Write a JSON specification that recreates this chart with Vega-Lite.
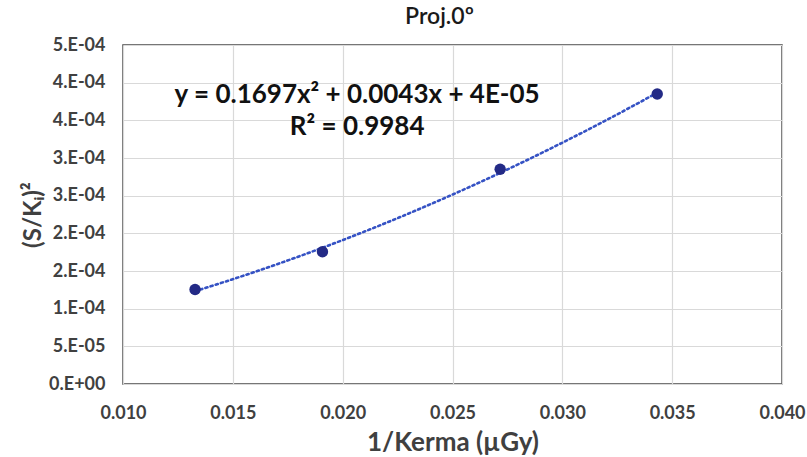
{
  "$schema": "https://vega.github.io/schema/vega-lite/v6.json",
  "autosize": "none",
  "width": 659,
  "height": 339,
  "padding": {"left": 123, "top": 45, "right": 25, "bottom": 73},
  "background": "white",
  "title": {"text": "Proj.0º", "font": "Lato", "fontSize": 23, "fontWeight": 600, "color": "#1a1a1a", "offset": 7, "dx": -13, "anchor": "middle"},
  "config": {
    "view": {"stroke": "#4a4a4a", "strokeWidth": 1.5},
    "axis": {"gridColor": "#d9d9d9", "gridWidth": 1.2, "domain": false, "ticks": false, "labelFont": "Lato", "labelFontWeight": "bold", "labelColor": "#404040", "labelFontSize": 18, "titleFont": "Lato", "titleFontWeight": "bold", "titleColor": "#404040", "labelOverlap": false}
  },
  "data": {"values": [
    {"x": 0.01328, "y": 0.0001255},
    {"x": 0.01908, "y": 0.0001755},
    {"x": 0.02717, "y": 0.000285},
    {"x": 0.03432, "y": 0.000385}
  ]},
  "encoding": {
    "x": {"field": "x", "type": "quantitative", "scale": {"domain": [0.01, 0.04], "nice": false},
      "axis": {"values": [0.01, 0.015, 0.02, 0.025, 0.03, 0.035, 0.04], "format": ".3f", "labelFlush": false, "labelPadding": 20, "title": "1/Kerma (µGy)", "titleFontSize": 26, "titleBaseline": "alphabetic", "titleY": 66}},
    "y": {"field": "y", "type": "quantitative", "scale": {"domain": [0, 0.00045], "nice": false},
      "axis": {"values": [0, 0.00005, 0.0001, 0.00015, 0.0002, 0.00025, 0.0003, 0.00035, 0.0004, 0.00045], "tickCount": 10,
        "labelExpr": "datum.value == 0 ? '0.E+00' : (datum.value < 0.00009 ? '5.E-05' : toString(round(datum.value * 10000 + 0.001)) + '.E-04')",
        "labelPadding": 18, "title": "(S/Kᵢ)²", "titleFontSize": 24, "titleX": -78}}
  },
  "layer": [
    {
      "transform": [{"regression": "y", "on": "x", "method": "poly", "order": 2}],
      "mark": {"type": "line", "color": "#3552c4", "strokeWidth": 2.6, "strokeDash": [2.2, 3.2], "strokeCap": "round"}
    },
    {
      "mark": {"type": "point", "filled": true, "size": 130, "color": "#232a86", "opacity": 1}
    },
    {
      "data": {"values": [
        {"x": 0.02066, "y": 0.0003836, "t": "y = 0.1697x² + 0.0043x + 4E-05"},
        {"x": 0.02066, "y": 0.000341, "t": "R² = 0.9984"}
      ]},
      "mark": {"type": "text", "font": "Lato", "fontWeight": "bold", "fontSize": 26, "color": "#111111", "align": "center", "baseline": "middle"},
      "encoding": {
        "text": {"field": "t"}
      }
    }
  ]
}
